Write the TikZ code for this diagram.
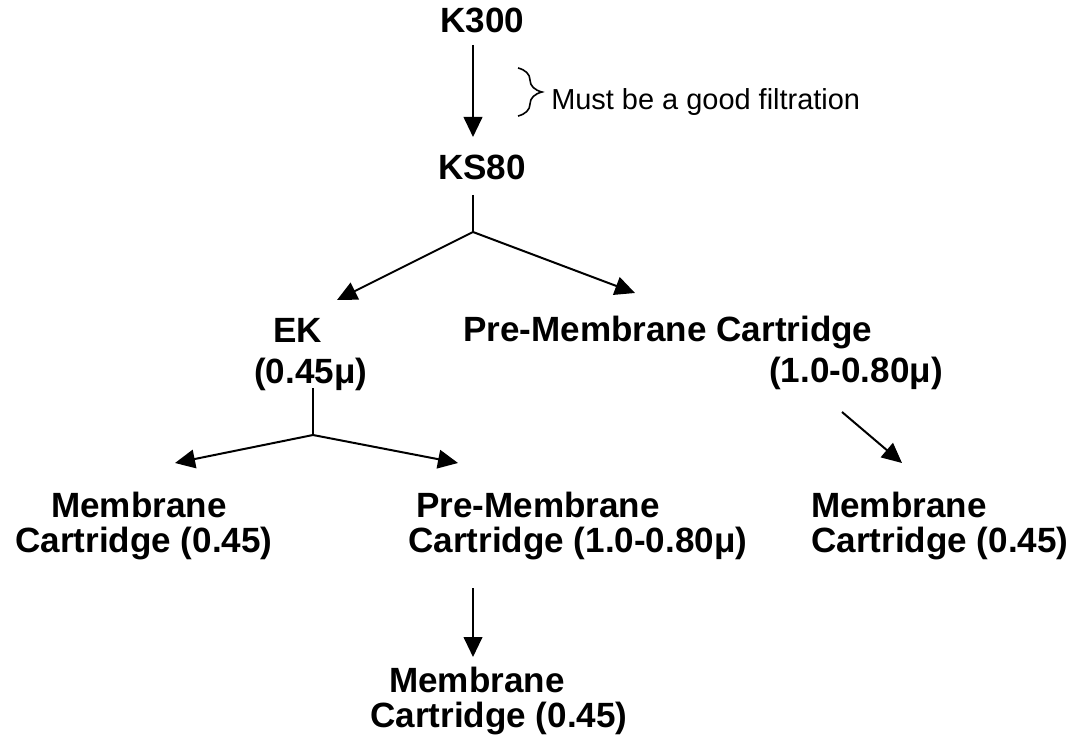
\documentclass[tikz,border=0pt]{standalone}
\usepackage{fontspec}
\setmainfont{Liberation Sans}
\usetikzlibrary{arrows.meta,decorations.pathreplacing}
\begin{document}
\begin{tikzpicture}[x=0.75pt,y=-0.75pt,
  lbl/.style={anchor=base west,inner sep=0pt,font=\fontsize{26.3}{30}\selectfont\bfseries},
  note/.style={anchor=base west,inner sep=0pt,font=\fontsize{21.7}{26}\selectfont},
  conn/.style={line width=1.5pt},
  arr/.style={conn,-{Triangle[length=15pt,width=14pt]}},
  bracestyle/.style={line width=1.2pt,decorate,decoration={brace,amplitude=18pt}}]
\useasboundingbox (0,0) rectangle (1069,737);

% text nodes
\node[lbl] (k300) at (440,33) {K300};
\node[lbl] (ks80) at (438,180) {KS80};
\node[note] (note) at (551,110) {Must be a good filtration};
\node[lbl] (ek) at (273,343) {EK};
\node[lbl] (eksize) at (254,383) {(0.45μ)};
\node[lbl] (pmc) at (463,342) {Pre-Membrane Cartridge};
\node[lbl] (pmcsize) at (769,382) {(1.0-0.80μ)};
\node[lbl] (mcl1) at (51,517) {Membrane};
\node[lbl] (mcl2) at (15,552) {Cartridge (0.45)};
\node[lbl] (pmm1) at (416,517) {Pre-Membrane};
\node[lbl] (pmm2) at (408,552) {Cartridge (1.0-0.80μ)};
\node[lbl] (mcr1) at (811,517) {Membrane};
\node[lbl] (mcr2) at (811,552) {Cartridge (0.45)};
\node[lbl] (mcb1) at (389,692) {Membrane};
\node[lbl] (mcb2) at (370,727) {Cartridge (0.45)};

% connector end points
\coordinate (k300out) at (473,45);
\coordinate (ks80in) at (473,137);
\coordinate (ks80out) at (473,195);
\coordinate (fork1) at (473,232);
\coordinate (ekin) at (337,300);
\coordinate (pmcin) at (635,293);
\coordinate (ekout) at (313,388);
\coordinate (fork2) at (313,435);
\coordinate (mcl1in) at (175,463);
\coordinate (pmm1in) at (458,463);
\coordinate (pmcout) at (842,412);
\coordinate (mcr1in) at (902,463);
\coordinate (pmm2out) at (473,588);
\coordinate (mcb1in) at (473,657);
\coordinate (bracetop) at (518,68);
\coordinate (bracebot) at (518,116);

% connectors
\draw[arr] (k300out) -- (ks80in);
\draw[conn] (ks80out) -- (fork1);
\draw[arr] (fork1) -- (ekin);
\draw[arr] (fork1) -- (pmcin);
\draw[conn] (ekout) -- (fork2);
\draw[arr] (fork2) -- (mcl1in);
\draw[arr] (fork2) -- (pmm1in);
\draw[arr] (pmcout) -- (mcr1in);
\draw[arr] (pmm2out) -- (mcb1in);
\draw[bracestyle] (bracetop) -- (bracebot);
\end{tikzpicture}
\end{document}
